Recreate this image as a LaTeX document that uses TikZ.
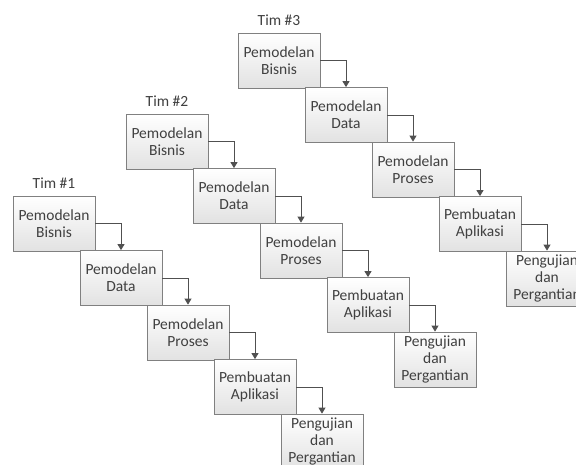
\documentclass[tikz,border=0pt]{standalone}
\usepackage{fontspec}
\setmainfont{Carlito}
\usetikzlibrary{arrows.meta}
\definecolor{boxline}{HTML}{808080}
\definecolor{boxbot}{HTML}{E2E2E2}
\definecolor{txt}{HTML}{404040}
\definecolor{arrline}{HTML}{505050}
\begin{document}
\begin{tikzpicture}[x=1pt,y=-1pt,
  stepbox/.style={draw=boxline, line width=0.8pt, top color=white, bottom color=boxbot,
    minimum width=82pt, minimum height=55pt, inner sep=0pt, align=center,
    font=\fontsize{15.5}{17}\selectfont, text=txt},
  team/.style={font=\fontsize{15.5}{17}\selectfont, text=txt, inner sep=0pt},
  arr/.style={draw=arrline, line width=0.9pt, -{Triangle[length=6pt,width=7pt]}}]
\useasboundingbox (0,0) rectangle (576,464);
\clip (0,0) rectangle (576,464);
\fill[white] (0,0) rectangle (576,464);
\foreach \t/\x/\y in {1/13/196, 2/126/114, 3/238/33}{
  \node[team] (tim\t) at (\x+41,\y-13) {Tim \#\t};
  \foreach \i/\lab in {0/{Pemodelan\\Bisnis}, 1/{Pemodelan\\Data}, 2/{Pemodelan\\Proses}, 3/{Pembuatan\\Aplikasi}, 4/{Pengujian\\dan\\Pergantian}}{
    \node[stepbox] (t\t b\i) at (\x+67*\i+41, \y+54.5*\i+27.5) {\lab};
  }
  \foreach \i in {0,1,2,3}{
    \pgfmathtruncatemacro{\j}{\i+1}
    \draw[arr] (t\t b\i.east) -| (t\t b\j.north);
  }
}
\end{tikzpicture}
\end{document}
